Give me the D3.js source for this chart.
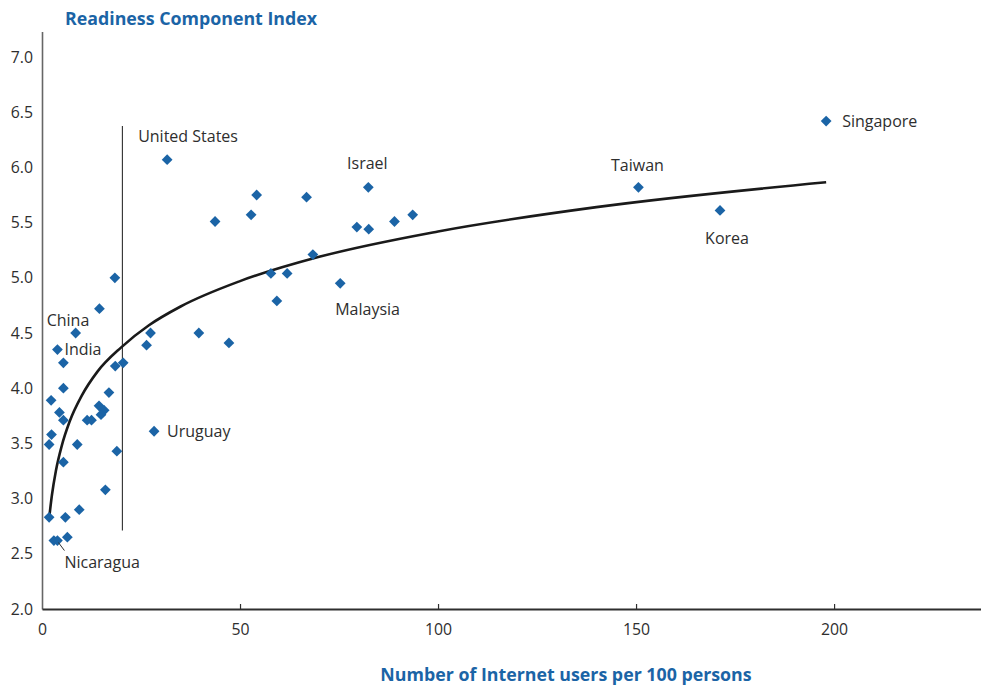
<!DOCTYPE html>
<html>
<head>
<meta charset="utf-8">
<script src="https://cdn.jsdelivr.net/npm/d3@7/dist/d3.min.js"></script>
<style>
  html, body { margin: 0; padding: 0; background: #fff; }
  svg { display: block; }
  text { font-family: "Open Sans", "Noto Sans", sans-serif; }
</style>
</head>
<body>
<svg id="chart" width="981" height="687"></svg>
<script>
// Internet users per 100 persons and readiness index, one entry per economy
const usersPer100 = [
  1.8, 5.9, 9.4, 6.4, 3.0, 3.9, 16.0, 5.4, 1.8, 8.9,
  18.9, 2.4, 11.4, 12.5, 5.4, 4.4, 2.3, 14.4, 15.7, 14.9,
  16.9, 5.4, 18.5, 20.5, 5.4, 3.9, 8.5, 14.5, 18.4, 27.4,
  26.4, 39.6, 47.2, 28.3, 31.6, 54.2, 43.7, 52.8, 66.8, 82.4,
  79.5, 82.5, 89.0, 93.6, 68.4, 57.8, 61.9, 75.3, 59.3, 150.6,
  171.2, 198.0
];
const readiness = [
  2.83, 2.83, 2.90, 2.65, 2.62, 2.62, 3.08, 3.33, 3.49, 3.49,
  3.43, 3.58, 3.71, 3.71, 3.71, 3.78, 3.89, 3.84, 3.80, 3.76,
  3.96, 4.00, 4.20, 4.23, 4.23, 4.35, 4.50, 4.72, 5.00, 4.50,
  4.39, 4.50, 4.41, 3.61, 6.07, 5.75, 5.51, 5.57, 5.73, 5.82,
  5.46, 5.44, 5.51, 5.57, 5.21, 5.04, 5.04, 4.95, 4.79, 5.82,
  5.61, 6.42
];

// Named economies (index into the arrays above)
const labelNames = ["Nicaragua", "India", "China", "Uruguay", "United States",
                    "Israel", "Malaysia", "Taiwan", "Korea", "Singapore"];
const labelIndex = [5, 25, 26, 33, 34, 39, 47, 49, 50, 51];

// Logarithmic trend line, sampled
const trendX = [1.8, 2.5, 3.5, 5, 7, 10, 14, 20, 27, 35, 50, 70, 100, 140, 198];
const trendY = [2.82, 3.03, 3.25, 3.48, 3.70, 3.93, 4.15, 4.37, 4.57, 4.74, 4.97, 5.19, 5.42, 5.64, 5.865];

// Reference marker at 20 users per 100 persons
const markerX = 20.3;
const markerYRange = [2.71, 6.375];

const xTicks = [0, 50, 100, 150, 200];
const yTicks = [2.0, 2.5, 3.0, 3.5, 4.0, 4.5, 5.0, 5.5, 6.0, 6.5, 7.0];

const xTitle = "Number of Internet users per 100 persons";
const yTitle = "Readiness Component Index";

// ---- drawing ----
const svg = d3.select("#chart");
const blue = "#1b64a6";
const ink = "#2e2e2e";

const plotLeft = 42, plotRight = 981, plotBottom = 609, plotTop = 31.6;
const x = d3.scaleLinear().domain([0, 237.1]).range([plotLeft, plotRight]);
const y = d3.scaleLinear().domain([2, 7.23]).range([plotBottom, plotTop]);

// y axis: plain line with labels to the left
const yAxis = svg.append("g")
  .attr("transform", `translate(${plotLeft},0)`)
  .call(d3.axisLeft(y).tickValues(yTicks).tickFormat(d3.format(".1f")).tickSize(0).tickPadding(9));
yAxis.select(".domain").attr("stroke", "#666").attr("stroke-width", 1.6);
yAxis.selectAll("text").attr("font-size", 15.8).attr("fill", ink)
  .attr("font-family", "'Open Sans', sans-serif");

// x axis: baseline with short upward ticks
const xAxis = svg.append("g")
  .attr("transform", `translate(0,${plotBottom})`)
  .call(d3.axisBottom(x).tickValues(xTicks).tickSize(0).tickPadding(15).tickFormat(d3.format("d")));
xAxis.select(".domain").attr("stroke", ink).attr("stroke-width", 1.8);
xAxis.selectAll("text").attr("font-size", 15.8).attr("fill", ink)
  .attr("font-family", "'Open Sans', sans-serif");
xAxis.selectAll(".tick").filter(d => d !== 0).append("line")
  .attr("y1", 0).attr("y2", -5).attr("stroke", ink).attr("stroke-width", 1.2);

// axis titles
svg.append("text")
  .attr("x", 65).attr("y", 25)
  .attr("font-size", 17.8).attr("font-weight", 700).attr("fill", blue)
  .text(yTitle);
svg.append("text")
  .attr("x", 566).attr("y", 681)
  .attr("text-anchor", "middle")
  .attr("font-size", 17.8).attr("font-weight", 700).attr("fill", blue)
  .text(xTitle);

// vertical reference marker
svg.append("line")
  .attr("x1", x(markerX)).attr("x2", x(markerX))
  .attr("y1", y(markerYRange[0])).attr("y2", y(markerYRange[1]))
  .attr("stroke", ink).attr("stroke-width", 1.1);

// trend curve
const trend = d3.line()
  .x(d => x(d[0])).y(d => y(d[1]))
  .curve(d3.curveMonotoneX);
svg.append("path")
  .datum(trendX.map((v, i) => [v, trendY[i]]))
  .attr("d", trend)
  .attr("fill", "none").attr("stroke", "#1a1a1a").attr("stroke-width", 2.6);

// data points as diamonds
const points = usersPer100.map((v, i) => ({ x: v, y: readiness[i] }));
const diamond = d3.symbol().type(d3.symbolSquare).size(58);
svg.append("g").selectAll("path")
  .data(points)
  .join("path")
  .attr("d", diamond)
  .attr("transform", d => `translate(${x(d.x)},${y(d.y)}) rotate(45)`)
  .attr("fill", blue);

// labels for named economies
const labelPlacement = {
  "Nicaragua":     { dx: 7,   dy: 22,  anchor: "start" },
  "India":         { dx: 7,   dy: 0,   anchor: "start" },
  "China":         { dx: -29, dy: -13, anchor: "start" },
  "Uruguay":       { dx: 13,  dy: 0,   anchor: "start" },
  "United States": { dx: -29, dy: -23, anchor: "start" },
  "Israel":        { dx: -1,  dy: -24, anchor: "middle" },
  "Malaysia":      { dx: -5,  dy: 26,  anchor: "start" },
  "Taiwan":        { dx: -1,  dy: -22, anchor: "middle" },
  "Korea":         { dx: 7,   dy: 28,  anchor: "middle" },
  "Singapore":     { dx: 16,  dy: 0,   anchor: "start" }
};
const labels = labelNames.map((name, i) => ({ name, ...points[labelIndex[i]] }));
svg.append("g").selectAll("text")
  .data(labels)
  .join("text")
  .attr("x", d => x(d.x) + labelPlacement[d.name].dx)
  .attr("y", d => y(d.y) + labelPlacement[d.name].dy)
  .attr("dy", "0.35em")
  .attr("text-anchor", d => labelPlacement[d.name].anchor)
  .attr("font-size", 16).attr("fill", ink)
  .text(d => d.name);

// leader from Nicaragua's point to its label
const nic = labels.find(d => d.name === "Nicaragua");
svg.append("line")
  .attr("x1", x(nic.x) + 1).attr("y1", y(nic.y) + 2)
  .attr("x2", x(nic.x) + 7).attr("y2", y(nic.y) + 10)
  .attr("stroke", ink).attr("stroke-width", 1);
</script>
</body>
</html>
